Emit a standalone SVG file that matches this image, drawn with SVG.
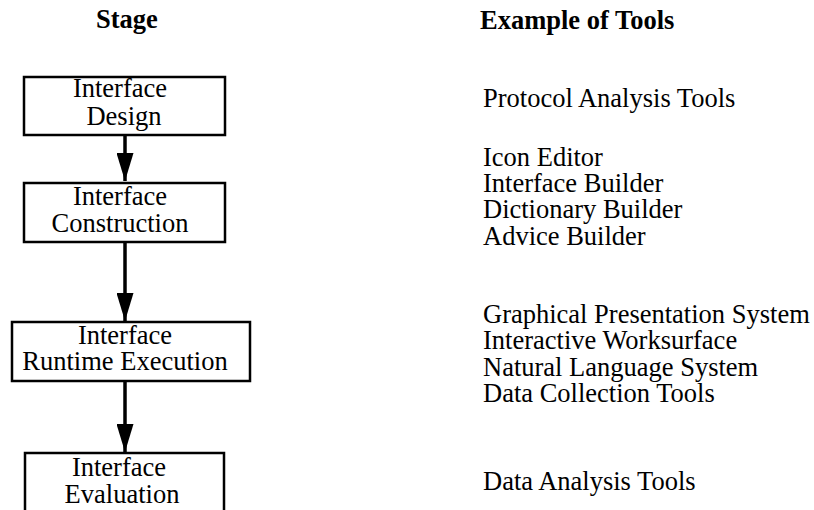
<svg xmlns="http://www.w3.org/2000/svg" width="814" height="510" viewBox="0 0 814 510">
  <defs>
    <marker id="arrow" markerUnits="userSpaceOnUse" markerWidth="28" markerHeight="17" refX="28" refY="8.5" orient="auto">
      <path d="M0,0 L28,8.5 L0,17 Z" fill="#000"/>
    </marker>
  </defs>
  <style>
    .box { fill: #fff; stroke: #000; stroke-width: 2.5; }
    .t { font-family: "Liberation Serif", "Times New Roman", serif; font-size: 26.5px; fill: #000; }
    .c { text-anchor: middle; }
    .h { font-weight: bold; font-size: 26.5px; }
    .conn { stroke: #000; stroke-width: 3.5; fill: none; }
  </style>
  <rect width="814" height="510" fill="#fff"/>

  <text class="t h" x="96" y="28">Stage</text>
  <text class="t h" x="480" y="29">Example of Tools</text>

  <g id="connectors">
    <line class="conn" x1="125" y1="135" x2="125" y2="181" marker-end="url(#arrow)"/>
    <line class="conn" x1="125" y1="242" x2="125" y2="321" marker-end="url(#arrow)"/>
    <line class="conn" x1="125" y1="381" x2="125" y2="452" marker-end="url(#arrow)"/>
  </g>

  <g id="node-design">
    <rect class="box" x="24" y="77" width="201" height="58"/>
    <text class="t c" x="120" y="97">Interface</text>
    <text class="t c" x="124" y="125">Design</text>
  </g>
  <g id="node-construction">
    <rect class="box" x="24" y="183" width="201" height="59"/>
    <text class="t c" x="120" y="205">Interface</text>
    <text class="t c" x="120" y="232">Construction</text>
  </g>
  <g id="node-runtime">
    <rect class="box" x="12" y="322" width="238" height="59"/>
    <text class="t c" x="125" y="344">Interface</text>
    <text class="t c" x="125" y="370">Runtime Execution</text>
  </g>
  <g id="node-evaluation">
    <rect class="box" x="25" y="453" width="199" height="70"/>
    <text class="t c" x="119" y="476">Interface</text>
    <text class="t c" x="122" y="503">Evaluation</text>
  </g>

  <g id="tools">
    <text class="t" x="483" y="107">Protocol Analysis Tools</text>
    <text class="t" x="483" y="166">Icon Editor</text>
    <text class="t" x="483" y="192">Interface Builder</text>
    <text class="t" x="483" y="218">Dictionary Builder</text>
    <text class="t" x="483" y="245">Advice Builder</text>
    <text class="t" x="483" y="323">Graphical Presentation System</text>
    <text class="t" x="483" y="349">Interactive Worksurface</text>
    <text class="t" x="483" y="376">Natural Language System</text>
    <text class="t" x="483" y="402">Data Collection Tools</text>
    <text class="t" x="483" y="490">Data Analysis Tools</text>
  </g>
</svg>
